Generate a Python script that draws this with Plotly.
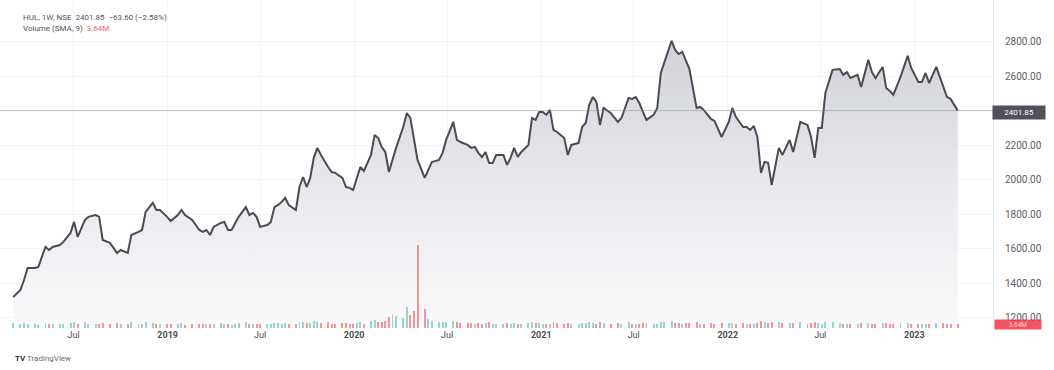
import pandas as pd
import plotly.graph_objects as go

# Weekly closes for HUL (NSE), indexed in weeks from the first bar
start_date = "2018-03-05"

week_index = [
    0, 2, 3, 4, 6, 7, 9, 10, 11, 13,
    14, 16, 17, 18, 20, 21, 23, 24, 25, 27,
    29, 30, 32, 33, 35, 36, 37, 39, 40, 41,
    43, 44, 46, 47, 48, 50, 52, 53, 54, 55,
    56, 58, 59, 60, 61, 62, 63, 65, 66, 67,
    68, 69, 71, 72, 73, 74, 75, 76, 77, 79,
    80, 81, 82, 83, 84, 85, 86, 88, 89, 90,
    92, 93, 94, 95, 96, 97, 98, 100, 101, 102,
    103, 104, 105, 106, 107, 109, 110, 111, 112, 113,
    115, 116, 117, 119, 120, 121, 123, 124, 125, 127,
    128, 129, 130, 131, 132, 133, 134, 135, 137, 138,
    139, 140, 141, 142, 144, 145, 146, 147, 148, 149,
    150, 151, 152, 154, 155, 156, 158, 159, 160, 161,
    162, 163, 164, 165, 167, 169, 170, 172, 173, 174,
    175, 176, 177, 179, 180, 181, 182, 184, 185, 186,
    187, 188, 189, 191, 192, 193, 195, 196, 198, 200,
    201, 202, 204, 205, 206, 207, 208, 209, 210, 211,
    212, 214, 215, 217, 218, 220, 222, 223, 224, 225,
    226, 227, 229, 231, 232, 233, 234, 236, 237, 239,
    240, 241, 243, 244, 245, 246, 248, 250, 251, 253,
    254, 255, 256, 258, 260, 261, 262, 264,
]

close = [
    1322, 1362, 1420, 1490, 1490, 1496, 1612, 1594, 1612, 1623,
    1641, 1693, 1757, 1670, 1768, 1786, 1797, 1786, 1652, 1635,
    1577, 1594, 1577, 1681, 1699, 1710, 1815, 1867, 1826, 1826,
    1786, 1762, 1797, 1826, 1797, 1768, 1710, 1699, 1710, 1681,
    1728, 1751, 1757, 1710, 1710, 1751, 1786, 1843, 1797, 1809,
    1786, 1728, 1739, 1757, 1843, 1855, 1872, 1896, 1855, 1826,
    1959, 2017, 1959, 2012, 2128, 2186, 2145, 2075, 2046, 2041,
    2012, 1959, 1954, 1942, 2012, 2075, 2052, 2145, 2261, 2243,
    2191, 2162, 2046, 2116, 2186, 2307, 2388, 2359, 2232, 2116,
    2012, 2058, 2104, 2116, 2157, 2232, 2336, 2232, 2220, 2203,
    2186, 2191, 2157, 2133, 2162, 2099, 2099, 2145, 2145, 2087,
    2128, 2186, 2133, 2162, 2203, 2359, 2348, 2394, 2394, 2377,
    2406, 2290, 2278, 2243, 2145, 2203, 2215, 2307, 2330, 2435,
    2481, 2452, 2319, 2417, 2388, 2336, 2359, 2475, 2470, 2481,
    2446, 2394, 2348, 2377, 2417, 2620, 2684, 2806, 2754, 2730,
    2742, 2696, 2643, 2417, 2423, 2406, 2354, 2342, 2249, 2336,
    2417, 2365, 2307, 2307, 2290, 2313, 2249, 2041, 2104, 2099,
    1971, 2186, 2145, 2232, 2162, 2336, 2319, 2249, 2128, 2301,
    2301, 2504, 2638, 2643, 2609, 2626, 2591, 2609, 2539, 2696,
    2626, 2591, 2655, 2533, 2516, 2493, 2597, 2719, 2649, 2568,
    2568, 2620, 2562, 2655, 2533, 2481, 2470, 2401.85,
]

# Weekly volume, millions of shares
volume_m = [
    4.1, 3.6, 4.4, 3.2, 3.8, 3.0, 4.6, 3.4, 3.1, 3.9,
    3.5, 4.2, 5.0, 3.6, 4.8, 3.3, 3.9, 3.2, 4.5, 3.7,
    4.0, 3.1, 3.5, 4.9, 3.8, 3.4, 5.2, 4.4, 3.6, 3.2,
    3.9, 3.3, 3.7, 4.1, 3.0, 3.5, 3.8, 3.2, 3.4, 3.9,
    3.6, 4.3, 3.1, 3.5, 2.9, 3.8, 4.2, 5.1, 3.7, 3.3,
    3.4, 3.9, 3.2, 3.6, 4.7, 4.0, 3.5, 4.4, 3.3, 3.8,
    5.6, 5.0, 4.2, 4.5, 6.1, 5.4, 4.3, 4.8, 3.9, 3.6,
    4.1, 4.6, 3.7, 3.9, 4.4, 5.2, 3.8, 6.0, 7.2, 5.1,
    5.6, 6.3, 9.8, 12.5, 10.4, 8.6, 18.0, 11.2, 14.6, 72.0,
    16.5, 7.4, 5.8, 5.1, 4.9, 5.5, 6.4, 5.2, 4.6, 4.3,
    4.0, 3.8, 4.5, 3.7, 4.2, 4.8, 3.6, 3.9, 3.4, 4.4,
    3.9, 4.6, 3.5, 3.8, 4.1, 5.3, 4.2, 4.7, 3.6, 3.9,
    3.7, 4.9, 4.0, 3.8, 4.6, 3.5, 3.4, 4.5, 4.0, 5.2,
    4.4, 3.7, 4.8, 4.1, 3.6, 4.3, 3.5, 4.9, 3.8, 3.6,
    3.9, 4.2, 4.5, 3.6, 3.8, 5.6, 5.0, 5.8, 4.4, 4.0,
    3.7, 4.1, 4.3, 5.4, 3.9, 3.6, 4.2, 3.8, 4.6, 4.4,
    4.0, 3.6, 4.3, 3.8, 3.5, 3.7, 4.1, 5.9, 4.8, 4.2,
    5.5, 5.1, 4.4, 4.7, 4.0, 4.9, 3.9, 4.3, 4.8, 4.6,
    3.8, 5.3, 5.0, 4.1, 3.9, 3.6, 3.8, 3.5, 4.2, 4.5,
    3.7, 3.9, 4.1, 4.3, 3.8, 3.5, 4.0, 4.6, 3.6, 3.9,
    3.4, 3.6, 3.8, 4.0, 4.2, 3.9, 3.7, 3.64,
]

last_price = 2401.85
price_change = "−63.60 (−2.58%)"
volume_sma = "3.64M"

tick_dates = [
    "2018-07-01", "2019-01-01", "2019-07-01", "2020-01-01", "2020-07-01",
    "2021-01-01", "2021-07-01", "2022-01-01", "2022-07-01", "2023-01-01",
]
tick_labels = [
    "Jul", "<b>2019</b>", "Jul", "<b>2020</b>", "Jul",
    "<b>2021</b>", "Jul", "<b>2022</b>", "Jul", "<b>2023</b>",
]
# 2400 sits under the last-price badge, so the scale skips it
price_ticks = [1200, 1400, 1600, 1800, 2000, 2200, 2600, 2800]

dates = pd.Timestamp(start_date) + pd.to_timedelta([7 * w for w in week_index], unit="D")

UP = "rgba(38,166,154,0.45)"
DOWN = "rgba(239,83,80,0.6)"
vol_colors = [UP] + [UP if close[i] >= close[i - 1] else DOWN for i in range(1, len(close))]

FONT = "Roboto, 'Liberation Sans', sans-serif"

fig = go.Figure()

fig.add_trace(go.Bar(
    x=dates, y=volume_m, yaxis="y2",
    marker=dict(color=vol_colors, line=dict(width=0)),
    width=7 * 86400000 * 0.55,
    hoverinfo="skip", showlegend=False,
))

fig.add_trace(go.Scatter(
    x=dates, y=close, mode="lines",
    line=dict(color="#4a4c52", width=2),
    fill="tozeroy",
    fillgradient=dict(
        type="vertical",
        start=1142, stop=2806,
        colorscale=[[0, "rgba(250,250,252,1)"], [0.5, "rgba(232,233,237,1)"], [1, "rgba(208,210,216,1)"]],
    ),
    showlegend=False,
))

# Line at the last traded price
fig.add_shape(type="line", xref="paper", x0=0, x1=1, yref="y", y0=last_price, y1=last_price,
              line=dict(color="rgba(140,143,150,0.55)", width=1))

fig.update_layout(
    width=1054, height=370, autosize=False,
    margin=dict(l=0, r=61, t=0, b=42),
    paper_bgcolor="white", plot_bgcolor="white",
    font=dict(family=FONT, color="#5a5d66", size=9),
    bargap=0,
    xaxis=dict(
        type="date",
        range=["2018-02-07", "2023-06-04"],
        tickvals=tick_dates, ticktext=tick_labels,
        tickfont=dict(size=9, color="#4b4e57"),
        showgrid=True, gridcolor="#f3f4f7", gridwidth=1,
        zeroline=False, showline=False,
        ticks="", ticklen=0,
    ),
    yaxis=dict(
        side="right",
        range=[1142, 3043],
        tickvals=price_ticks, tickformat=".2f",
        tickfont=dict(size=10, color="#5a5d66"),
        showgrid=True, gridcolor="#f3f4f7", gridwidth=1,
        zeroline=False,
        showline=True, linecolor="#e9eaee", linewidth=1,
        ticks="outside", ticklen=9, tickcolor="rgba(0,0,0,0)",
    ),
    yaxis2=dict(
        overlaying="y", range=[0, 284], visible=False, fixedrange=True,
    ),
    annotations=[
        dict(xref="paper", yref="paper", x=0, y=1, xanchor="left", yanchor="top",
             xshift=21, yshift=-11, showarrow=False,
             text=f"HUL, 1W, NSE  {last_price:.2f}  {price_change}",
             font=dict(size=8, color="#50535c")),
        dict(xref="paper", yref="paper", x=0, y=1, xanchor="left", yanchor="top",
             xshift=21, yshift=-22, showarrow=False,
             text=f"Volume (SMA, 9)  <span style='color:#f0616e'>{volume_sma}</span>",
             font=dict(size=8, color="#50535c")),
        dict(xref="paper", yref="y", x=1, y=last_price, xanchor="left", yanchor="middle",
             xshift=-1, yshift=-2, showarrow=False, text=f"{last_price:.2f}",
             bgcolor="#4f525b", width=50, height=11,
             font=dict(size=8, color="white")),
        dict(xref="paper", yref="y2", x=1, y=3.64, xanchor="left", yanchor="middle",
             xshift=1, yshift=-1, showarrow=False, text=volume_sma,
             bgcolor="rgba(240,54,70,0.85)", width=44, height=7,
             font=dict(size=6.5, color="#ffd7da")),
        dict(xref="paper", yref="paper", x=0, y=0, xanchor="left", yanchor="top",
             xshift=13, yshift=-24, showarrow=False,
             text="<b>TV</b> <span style='color:#6a6d75'>TradingView</span>",
             font=dict(size=8, color="#2a2e39")),
    ],
)

fig.write_html("out.html", config={"displayModeBar": False})
